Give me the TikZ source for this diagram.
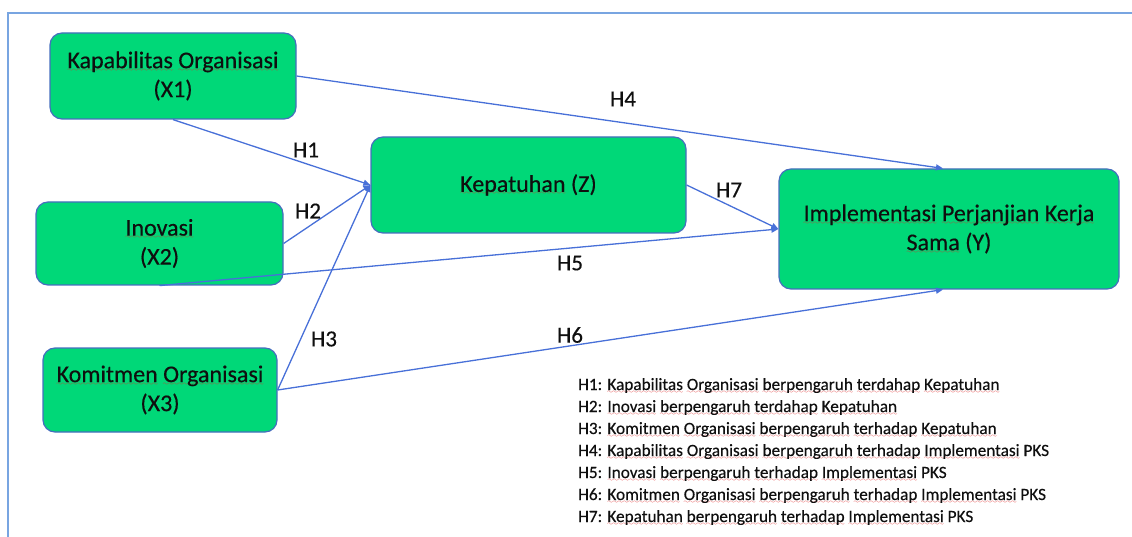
\documentclass[tikz,border=0pt]{standalone}
\usepackage{fontspec}
\setmainfont{Carlito}[FakeBold=0.35]
\usetikzlibrary{arrows.meta}
\definecolor{boxfill}{RGB}{0,216,120}
\definecolor{boxdraw}{RGB}{70,110,190}
\definecolor{arrowblue}{RGB}{72,112,216}
\definecolor{framebl}{RGB}{120,165,225}
\definecolor{wavered}{RGB}{225,40,40}
\definecolor{txt}{RGB}{15,15,15}
\font\wavefont=lasy6
\newsavebox{\wavebox}
\newcommand{\redwave}[1]{\sbox{\wavebox}{#1}\rlap{\textcolor{wavered}{\lower3pt\hbox to \wd\wavebox{\xleaders\hbox{\wavefont\char58}\hfill}}}\usebox{\wavebox}}
\tikzset{
  varbox/.style={draw=boxdraw, line width=1.2pt, fill=boxfill, rounded corners=12pt,
    inner sep=0pt, align=center, text=txt, font=\fontsize{24}{29}\selectfont},
  hyp/.style={draw=arrowblue, line width=1.3pt, -{Triangle[length=7pt,width=6pt]}},
  hlabel/.style={text=txt, inner sep=0pt, font=\fontsize{23}{29}\selectfont},
  legline/.style={text=txt, inner sep=0pt, anchor=base west, font=\fontsize{17.2}{22}\selectfont},
  frameline/.style={draw=framebl, line width=1.8pt}
}
\begin{document}
\begin{tikzpicture}[x=1pt,y=-1pt]
\useasboundingbox (0,0) rectangle (1132,537);
% frame
\coordinate (fb) at (8,537);
\coordinate (fc) at (8,13);
\coordinate (fr) at (1132,13);
\draw[frameline] (fb) -- (fc) -- (fr);
% boxes
\node[varbox, minimum width=246pt, minimum height=86pt] (X1) at (173,76)
  {\redwave{Kapabilitas} \redwave{Organisasi}\\(X1)};
\node[varbox, minimum width=315pt, minimum height=96pt] (Z) at (528.5,185)
  {\redwave{Kepatuhan} (Z)};
\node[varbox, minimum width=340pt, minimum height=120pt] (Y) at (949,229)
  {\redwave{Implementasi} \redwave{Perjanjian} \redwave{Kerja}\\\redwave{Sama} (Y)};
\node[varbox, minimum width=247pt, minimum height=83pt] (X2) at (159.5,243.5)
  {\redwave{Inovasi}\\(X2)};
\node[varbox, minimum width=234pt, minimum height=84pt] (X3) at (160,390)
  {\redwave{Komitmen} \redwave{Organisasi}\\(X3)};
% arrows
\draw[hyp] (X1.east) -- ([xshift=-6pt]Y.north);
\draw[hyp] (X1.south) -- (Z.west);
\draw[hyp] (X2.east) -- (Z.west);
\draw[hyp] (X3.east) -- (Z.west);
\draw[hyp] (X2.south) -- (Y.west);
\draw[hyp] (Z.east) -- (Y.west);
\draw[hyp] (X3.east) -- ([xshift=-6pt]Y.south);
% labels
\node[hlabel] (lH4) at (623,99) {H4};
\node[hlabel] (lH1) at (306,150) {H1};
\node[hlabel] (lH2) at (308,211) {H2};
\node[hlabel] (lH7) at (729,190) {H7};
\node[hlabel] (lH5) at (570,263) {H5};
\node[hlabel] (lH3) at (324,339) {H3};
\node[hlabel] (lH6) at (570,335) {H6};
% legend
\node[legline] (g1) at (578,390) {H1: \redwave{Kapabilitas} \redwave{Organisasi} \redwave{berpengaruh} \redwave{terdahap} \redwave{Kepatuhan}};
\node[legline] (g2) at (578,412) {H2: \redwave{Inovasi} \redwave{berpengaruh} \redwave{terdahap} \redwave{Kepatuhan}};
\node[legline] (g3) at (578,434) {H3: \redwave{Komitmen} \redwave{Organisasi} \redwave{berpengaruh} \redwave{terhadap} \redwave{Kepatuhan}};
\node[legline] (g4) at (578,456) {H4: \redwave{Kapabilitas} \redwave{Organisasi} \redwave{berpengaruh} \redwave{terhadap} \redwave{Implementasi} PKS};
\node[legline] (g5) at (578,478) {H5: \redwave{Inovasi} \redwave{berpengaruh} \redwave{terhadap} \redwave{Implementasi} PKS};
\node[legline] (g6) at (578,500) {H6: \redwave{Komitmen} \redwave{Organisasi} \redwave{berpengaruh} \redwave{terhadap} \redwave{Implementasi} PKS};
\node[legline] (g7) at (578,522) {H7: \redwave{Kepatuhan} \redwave{berpengaruh} \redwave{terhadap} \redwave{Implementasi} PKS};
\end{tikzpicture}
\end{document}
